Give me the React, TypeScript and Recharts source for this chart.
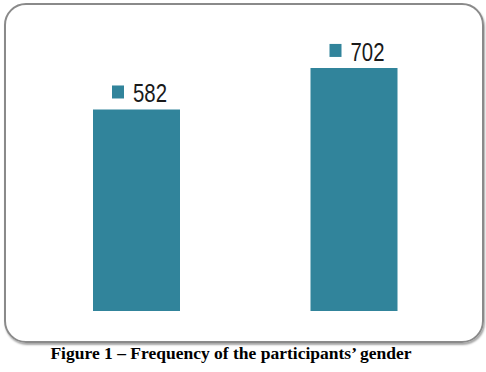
import { BarChart, Bar, XAxis, YAxis, LabelList } from 'recharts';

const categories = ['Female', 'Male'];
const counts = [582, 702];

const data = categories.map((name, i) => ({ name, count: counts[i] }));

const BAR_COLOR = '#31849b';

interface LabelProps {
  x?: number;
  y?: number;
  width?: number;
  value?: number;
}

// marker square + narrow number above each bar
const renderValueLabel = ({ x = 0, y = 0, value }: LabelProps) => (
  <g>
    <rect x={x + 19} y={y - 24} width={12} height={13} fill={BAR_COLOR} />
    <text
      x={x + 40}
      y={y - 7}
      fontSize={25.5}
      fontFamily="'Liberation Sans', Arial, sans-serif"
      textLength={34}
      lengthAdjust="spacingAndGlyphs"
      fill="#1a1a1a"
    >
      {value}
    </text>
  </g>
);

export default function App() {
  return (
    <div style={{ position: 'absolute', left: 0, top: 0, width: 486, height: 372, background: '#fff' }}>
      <div
        style={{
          position: 'absolute',
          left: 4,
          top: 3,
          width: 476,
          height: 336,
          border: '2px solid #8a8a8a',
          borderRadius: 22,
          boxShadow: '1px 2px 2px rgba(0,0,0,0.35)',
        }}
      />
      <div style={{ position: 'absolute', left: 0, top: 0 }}>
        <BarChart
          width={486}
          height={372}
          data={data}
          margin={{ top: 34, right: 23, bottom: 61, left: 28 }}
          barCategoryGap={0}
        >
          <XAxis dataKey="name" hide />
          <YAxis hide domain={[0, 800]} />
          <Bar dataKey="count" fill={BAR_COLOR} barSize={87} isAnimationActive={false}>
            <LabelList dataKey="count" content={renderValueLabel} />
          </Bar>
        </BarChart>
      </div>
      <div
        style={{
          position: 'absolute',
          left: 0,
          width: 462,
          top: 343,
          textAlign: 'center',
          fontFamily: "'Liberation Serif', 'Times New Roman', serif",
          fontWeight: 'bold',
          fontSize: 17.5,
          color: '#000',
        }}
      >
        Figure 1 – Frequency of the participants’ gender
      </div>
    </div>
  );
}
